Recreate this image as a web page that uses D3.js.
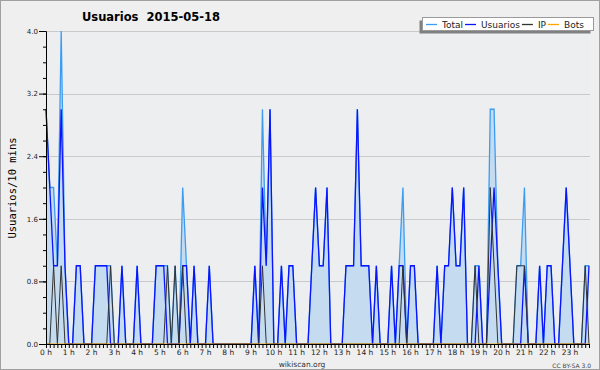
<!DOCTYPE html>
<html>
<head>
<meta charset="utf-8">
<script src="https://cdn.jsdelivr.net/npm/d3@7/dist/d3.min.js"></script>
<style>
body { margin: 0; background: #fff; }
svg { display: block; font-family: "DejaVu Sans", sans-serif; }
</style>
</head>
<body>
<div id="chart"></div>
<script>
// hour labels on the x axis, one every 6 points (10 min steps)
var hourLabels = ["0 h","1 h","2 h","3 h","4 h","5 h","6 h","7 h","8 h","9 h","10 h","11 h",
  "12 h","13 h","14 h","15 h","16 h","17 h","18 h","19 h","20 h","21 h","22 h","23 h"];
var yTicks = [0, 0.8, 1.6, 2.4, 3.2, 4.0];

// one value per 10 minutes, one row per hour
var total = [
  3,2,2,1,4,1, 0,0,1,1,0,0, 0,1,1,1,1,1, 0,0,1,0,0,0,
  1,0,0,0,0,1, 1,1,1,0,1,0, 2,1,0,1,0,0, 0,1,0,0,0,0,
  0,0,0,0,0,0, 0,1,0,3,1,3, 0,0,1,0,1,1, 0,0,0,0,1,2,
  1,1,2,0,0,0, 0,1,1,1,3,1, 1,1,0,1,0,0, 0,1,0,1,2,0,
  1,1,0,0,0,0, 0,1,0,1,1,2, 1,1,2,0,0,1, 1,0,0,3,3,1,
  0,0,0,0,1,1, 2,0,0,0,1,0, 1,1,0,0,1,2, 1,0,0,0,1,1
];
var usuarios = [
  3,2,1,1,3,1, 0,0,1,1,0,0, 0,1,1,1,1,0, 0,0,1,0,0,0,
  1,0,0,0,0,1, 1,1,0,0,0,0, 1,1,0,1,0,0, 0,1,0,0,0,0,
  0,0,0,0,0,0, 0,1,0,2,1,3, 0,0,1,0,1,1, 0,0,0,0,1,2,
  1,1,2,0,0,0, 0,1,1,1,3,1, 1,1,0,1,0,0, 0,1,0,1,1,0,
  1,1,0,0,0,0, 0,1,0,1,1,2, 1,1,2,0,0,0, 1,0,0,1,2,1,
  0,0,0,0,0,0, 1,0,0,0,1,0, 1,1,0,0,1,2, 1,0,0,0,0,1
];
var ip = [
  0,0,1,0,1,0, 0,0,0,0,0,0, 0,0,0,0,0,1, 0,0,0,0,0,0,
  0,0,0,0,0,0, 0,0,1,0,1,0, 1,0,0,0,0,0, 0,0,0,0,0,0,
  0,0,0,0,0,0, 0,0,0,1,0,0, 0,0,0,0,0,0, 0,0,0,0,0,0,
  0,0,0,0,0,0, 0,0,0,0,0,0, 0,0,0,0,0,0, 0,0,0,0,1,0,
  0,0,0,0,0,0, 0,0,0,0,0,0, 0,0,0,0,0,1, 0,0,0,2,1,0,
  0,0,0,0,1,1, 1,0,0,0,0,0, 0,0,0,0,0,0, 0,0,0,0,1,0
];
var bots = [
  0,0,0,0,0,0, 0,0,0,0,0,0, 0,0,0,0,0,0, 0,0,0,0,0,0,
  0,0,0,0,0,0, 0,0,0,0,0,0, 0,0,0,0,0,0, 0,0,0,0,0,0,
  0,0,0,0,0,0, 0,0,0,0,0,0, 0,0,0,0,0,0, 0,0,0,0,0,0,
  0,0,0,0,0,0, 0,0,0,0,0,0, 0,0,0,0,0,0, 0,0,0,0,0,0,
  0,0,0,0,0,0, 0,0,0,0,0,0, 0,0,0,0,0,0, 0,0,0,0,0,0,
  0,0,0,0,0,0, 0,0,0,0,0,0, 0,0,0,0,0,0, 0,0,0,0,0,0
];

var series = [
  {name: "Total", values: total, color: "#3b9cf2", width: 1.3},
  {name: "Usuarios", values: usuarios, color: "#0a14ff", width: 1.3},
  {name: "IP", values: ip, color: "#333333", width: 1},
  {name: "Bots", values: bots, color: "#ffa500", width: 1}
];

var W = 600, H = 370;
var plot = {left: 46, right: 590, top: 31, bottom: 344};

var svg = d3.select("#chart").append("svg")
    .attr("width", W)
    .attr("height", H);

// background + border
svg.append("rect")
    .attr("x", 0.5).attr("y", 0.5)
    .attr("width", W - 1).attr("height", H - 1)
    .style("fill", "#efefef").style("stroke", "#a0a0a0");
svg.append("rect")
    .attr("x", plot.left).attr("y", plot.top)
    .attr("width", plot.right - plot.left).attr("height", plot.bottom - plot.top)
    .style("fill", "#edeef0");

var x = d3.scaleLinear().domain([0, total.length - 1]).range([plot.left, plot.right - 1]);
var y = d3.scaleLinear().domain([0, 4]).range([plot.bottom, plot.top]);

// grid lines
svg.selectAll("line.grid").data(yTicks.filter(function(d){ return d > 0; }))
  .enter().append("line")
    .attr("class", "grid")
    .attr("x1", plot.left).attr("x2", plot.right)
    .attr("y1", function(d){ return Math.round(y(d)) + 0.5; })
    .attr("y2", function(d){ return Math.round(y(d)) + 0.5; })
    .style("stroke", "#cacaca");

// area under total
var area = d3.area()
    .x(function(d, i){ return x(i); })
    .y0(y(0))
    .y1(function(d){ return y(d); });
svg.append("path").datum(total)
    .attr("d", area)
    .style("fill", "#c5dcf0");

// the lines
var line = d3.line()
    .x(function(d, i){ return x(i); })
    .y(function(d){ return y(d); });
series.forEach(function(s){
  svg.append("path").datum(s.values)
      .attr("d", line)
      .style("fill", "none")
      .style("stroke", s.color)
      .style("stroke-width", s.width);
});

// x axis: a tick every 10 min, labels every hour
var xAxis = svg.append("g")
    .attr("transform", "translate(0," + plot.bottom + ")")
    .call(d3.axisBottom(x)
      .tickValues(d3.range(0, total.length))
      .tickFormat("")
      .tickSize(4)
      .tickSizeOuter(0));
xAxis.select(".domain").attr("d", "M" + plot.left + ",0.5H" + plot.right);
xAxis.selectAll("line").style("stroke", "#000");

svg.selectAll("text.hour").data(hourLabels)
  .enter().append("text")
    .attr("class", "hour")
    .attr("x", function(d, i){ return x(i * 6); })
    .attr("y", 355)
    .attr("text-anchor", "middle")
    .style("font-size", "7.5px")
    .style("fill", "#222")
    .text(function(d){ return d; });

// y axis, minor then major ticks
svg.append("g")
    .attr("transform", "translate(" + plot.left + ",0)")
    .call(d3.axisLeft(y)
      .tickValues(d3.range(0, 4.01, 0.2))
      .tickFormat("")
      .tickSize(3)
      .tickSizeOuter(0));
var yAxis = svg.append("g")
    .attr("transform", "translate(" + plot.left + ",0)")
    .call(d3.axisLeft(y)
      .tickValues(yTicks)
      .tickFormat(d3.format(".1f"))
      .tickSize(7)
      .tickPadding(1)
      .tickSizeOuter(0));
yAxis.selectAll("text")
    .style("font-family", "DejaVu Sans")
    .style("font-size", "7px")
    .style("fill", "#222");

// titles
svg.append("text")
    .attr("x", 151).attr("y", 21)
    .attr("text-anchor", "middle")
    .style("font-size", "11.5px")
    .style("font-weight", "bold")
    .style("white-space", "pre")
    .text("Usuarios  2015-05-18");

svg.append("text")
    .attr("transform", "translate(12,188) rotate(-90)")
    .attr("text-anchor", "middle")
    .attr("dominant-baseline", "central")
    .style("font-family", "DejaVu Sans Mono")
    .style("font-size", "10.5px")
    .text("Usuarios/10 mins");

svg.append("text")
    .attr("x", 302).attr("y", 367)
    .attr("text-anchor", "middle")
    .style("font-size", "7.5px")
    .style("fill", "#333")
    .text("wikiscan.org");

svg.append("text")
    .attr("x", 591).attr("y", 368)
    .attr("text-anchor", "end")
    .style("font-size", "6px")
    .style("fill", "#444")
    .text("CC BY-SA 3.0");

// legend box with shadow
svg.append("rect")
    .attr("x", 419.5).attr("y", 20.5)
    .attr("width", 171).attr("height", 13)
    .style("fill", "#808080");
svg.append("rect")
    .attr("x", 422.5).attr("y", 17.5)
    .attr("width", 171).attr("height", 13)
    .style("fill", "#fff").style("stroke", "#9a9a9a");

var lx = 426;
series.forEach(function(s){
  svg.append("line")
      .attr("x1", lx).attr("x2", lx + 11)
      .attr("y1", 24.5).attr("y2", 24.5)
      .style("stroke", s.color)
      .style("stroke-width", 1.3);
  var t = svg.append("text")
      .attr("x", lx + 16).attr("y", 28)
      .style("font-size", "9px")
      .style("fill", "#222")
      .text(s.name);
  lx += 16 + t.node().getComputedTextLength() + 2;
});
</script>
</body>
</html>
